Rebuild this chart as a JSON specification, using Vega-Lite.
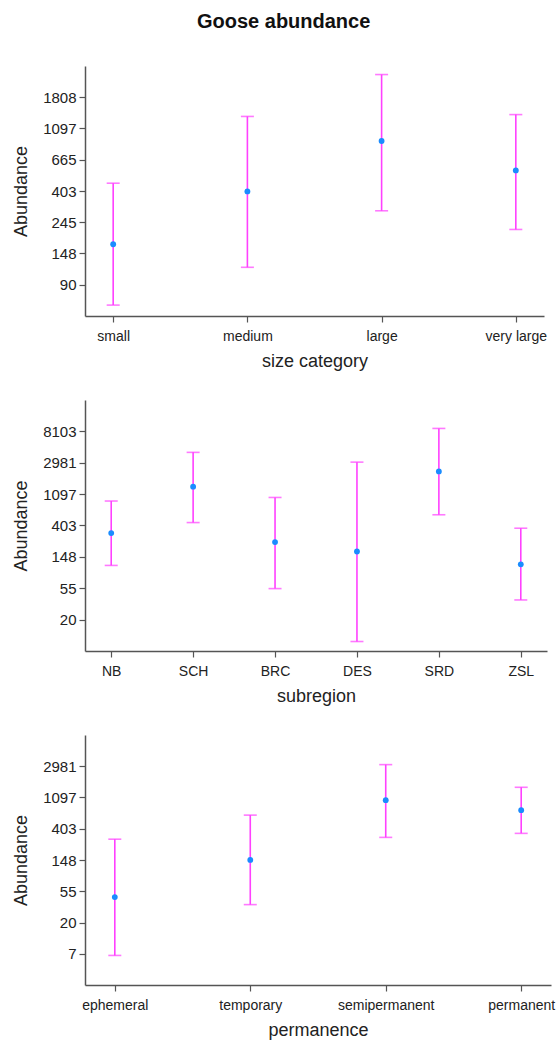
{
  "$schema": "https://vega.github.io/schema/vega-lite/v6.json",
  "padding": {"left": 12, "top": 12, "right": 5, "bottom": 5},
  "title": {"text": "Goose abundance", "fontSize": 20, "fontWeight": "bold", "font": "Liberation Sans", "color": "#111", "anchor": "middle", "offset": 34},
  "datasets": {
    "size": [
      {"category": "small", "mean": 172, "lower": 65, "upper": 457},
      {"category": "medium", "mean": 401, "lower": 119, "upper": 1330},
      {"category": "large", "mean": 898, "lower": 294, "upper": 2600},
      {"category": "very large", "mean": 561, "lower": 218, "upper": 1370}
    ],
    "subregion": [
      {"category": "NB", "mean": 317, "lower": 113, "upper": 880},
      {"category": "SCH", "mean": 1390, "lower": 443, "upper": 4150},
      {"category": "BRC", "mean": 238, "lower": 54, "upper": 986},
      {"category": "DES", "mean": 176, "lower": 10, "upper": 3040},
      {"category": "SRD", "mean": 2260, "lower": 568, "upper": 8900},
      {"category": "ZSL", "mean": 117, "lower": 37.6, "upper": 370}
    ],
    "permanence": [
      {"category": "ephemeral", "mean": 45.3, "lower": 7.0, "upper": 289},
      {"category": "temporary", "mean": 149, "lower": 35.6, "upper": 624},
      {"category": "semipermanent", "mean": 1007, "lower": 306, "upper": 3140},
      {"category": "permanent", "mean": 732, "lower": 348, "upper": 1520}
    ]
  },
  "spacing": 30,
  "vconcat": [
    {
      "width": 459, "height": 250,
      "data": {"name": "size"},
      "encoding": {
        "x": {"field": "category", "type": "ordinal", "sort": ["small", "medium", "large", "very large"], "scale": {"type": "point", "padding": 0.21}, "axis": {"title": "size category", "labelAngle": 0}}
      },
      "layer": [
        {"mark": {"type": "rule", "color": "#ff40ff", "strokeWidth": 1.6},
         "encoding": {"y": {"field": "lower", "type": "quantitative", "title": "Abundance",
           "scale": {"type": "log", "base": 2.718281828459045, "domain": [59.1, 2892]},
           "axis": {"values": [90.0171, 148.4132, 244.6919, 403.4288, 665.1416, 1096.6332, 1808.0424], "format": ".0f"}},
           "y2": {"field": "upper"}}},
        {"mark": {"type": "tick", "color": "#ff40ff", "size": 13, "thickness": 1.6},
         "encoding": {"y": {"field": "lower", "type": "quantitative", "title": "Abundance"}}},
        {"mark": {"type": "tick", "color": "#ff40ff", "size": 13, "thickness": 1.6},
         "encoding": {"y": {"field": "upper", "type": "quantitative", "title": "Abundance"}}},
        {"mark": {"type": "circle", "color": "#1a8cff", "opacity": 1, "size": 34},
         "encoding": {"y": {"field": "mean", "type": "quantitative", "title": "Abundance"}}}
      ]
    },
    {
      "width": 462, "height": 251,
      "data": {"name": "subregion"},
      "encoding": {
        "x": {"field": "category", "type": "ordinal", "sort": ["NB", "SCH", "BRC", "DES", "SRD", "ZSL"], "scale": {"type": "point", "padding": 0.32}, "axis": {"title": "subregion", "labelAngle": 0}}
      },
      "layer": [
        {"mark": {"type": "rule", "color": "#ff40ff", "strokeWidth": 1.6},
         "encoding": {"y": {"field": "lower", "type": "quantitative", "title": "Abundance",
           "scale": {"type": "log", "base": 2.718281828459045, "domain": [8.28, 10795]},
           "axis": {"values": [20.0855, 54.5982, 148.4132, 403.4288, 1096.6332, 2980.958, 8103.0839], "format": ".0f"}},
           "y2": {"field": "upper"}}},
        {"mark": {"type": "tick", "color": "#ff40ff", "size": 13, "thickness": 1.6},
         "encoding": {"y": {"field": "lower", "type": "quantitative", "title": "Abundance"}}},
        {"mark": {"type": "tick", "color": "#ff40ff", "size": 13, "thickness": 1.6},
         "encoding": {"y": {"field": "upper", "type": "quantitative", "title": "Abundance"}}},
        {"mark": {"type": "circle", "color": "#1a8cff", "opacity": 1, "size": 34},
         "encoding": {"y": {"field": "mean", "type": "quantitative", "title": "Abundance"}}}
      ]
    },
    {
      "width": 466, "height": 250,
      "data": {"name": "permanence"},
      "encoding": {
        "x": {"field": "category", "type": "ordinal", "sort": ["ephemeral", "temporary", "semipermanent", "permanent"], "scale": {"type": "point", "padding": 0.22}, "axis": {"title": "permanence", "labelAngle": 0}}
      },
      "layer": [
        {"mark": {"type": "rule", "color": "#ff40ff", "strokeWidth": 1.6},
         "encoding": {"y": {"field": "lower", "type": "quantitative", "title": "Abundance",
           "scale": {"type": "log", "base": 2.718281828459045, "domain": [5.93, 3666]},
           "axis": {"values": [7.3891, 20.0855, 54.5982, 148.4132, 403.4288, 1096.6332, 2980.958], "format": ".0f"}},
           "y2": {"field": "upper"}}},
        {"mark": {"type": "tick", "color": "#ff40ff", "size": 13, "thickness": 1.6},
         "encoding": {"y": {"field": "lower", "type": "quantitative", "title": "Abundance"}}},
        {"mark": {"type": "tick", "color": "#ff40ff", "size": 13, "thickness": 1.6},
         "encoding": {"y": {"field": "upper", "type": "quantitative", "title": "Abundance"}}},
        {"mark": {"type": "circle", "color": "#1a8cff", "opacity": 1, "size": 34},
         "encoding": {"y": {"field": "mean", "type": "quantitative", "title": "Abundance"}}}
      ]
    }
  ],
  "config": {
    "font": "Liberation Sans",
    "view": {"stroke": null},
    "axis": {
      "grid": false,
      "labelFontSize": 14,
      "labelColor": "#222",
      "titleFontSize": 18,
      "titleFontWeight": "normal",
      "titleColor": "#222",
      "domainColor": "#555",
      "domainWidth": 1.5,
      "tickColor": "#555",
      "tickWidth": 1.2,
      "tickSize": 6,
      "labelPadding": 4
    },
    "axisY": {"titlePadding": 12, "labelPadding": 3, "labelFontSize": 15},
    "axisX": {"titlePadding": 9, "labelPadding": 7}
  }
}
